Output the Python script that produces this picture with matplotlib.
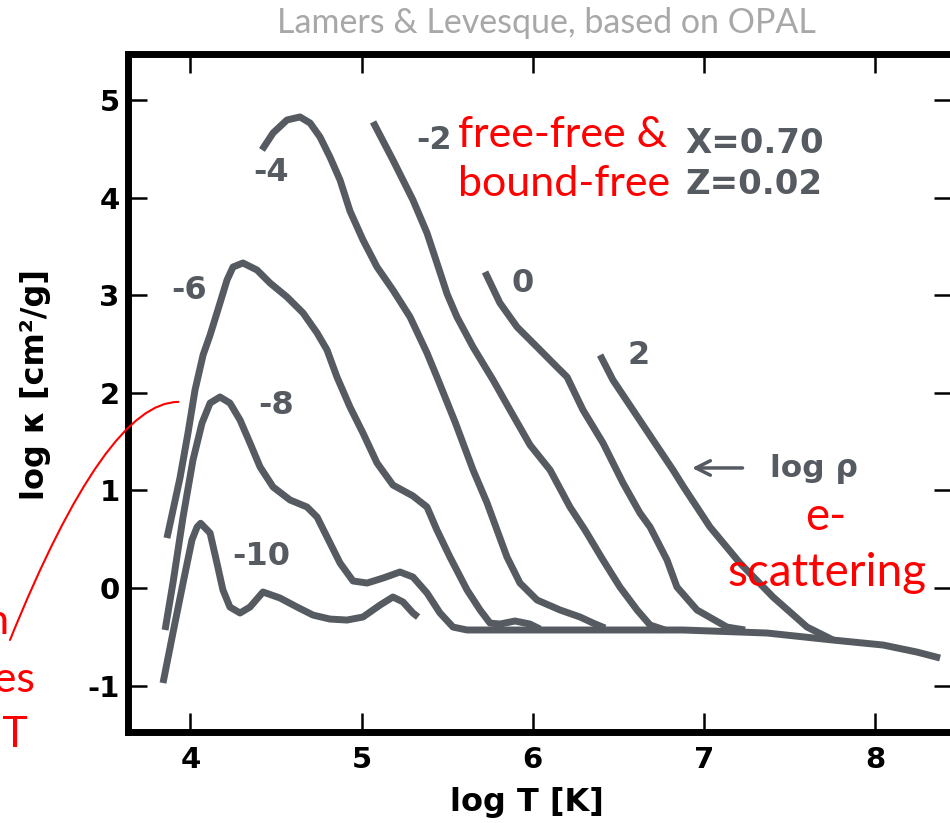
import matplotlib
matplotlib.use("Agg")
import matplotlib.pyplot as plt

# ---- data (log T, log kappa) ----
rho_m10_T = [3.840, 3.898, 3.957, 4.009, 4.039, 4.060, 4.115, 4.155, 4.190, 4.231, 4.290,
             4.348, 4.424, 4.523, 4.623, 4.716, 4.815, 4.915, 5.008, 5.108, 5.183, 5.242, 5.300, 5.330]
rho_m10_k = [-0.973, -0.461, 0.051, 0.492, 0.625, 0.663, 0.563, 0.256, -0.020, -0.195, -0.256,
             -0.195, -0.041, -0.102, -0.195, -0.277, -0.318, -0.328, -0.297, -0.174, -0.092, -0.143, -0.256, -0.297]

rho_m8_T = [3.852, 3.898, 3.957, 4.015, 4.068, 4.115, 4.173, 4.231, 4.290, 4.348, 4.407, 4.483,
            4.582, 4.681, 4.740, 4.798, 4.874, 4.950, 5.032, 5.125, 5.224, 5.300, 5.382, 5.458,
            5.534, 5.616, 5.808, 6.393, 6.877, 7.368, 7.754, 8.046, 8.244, 8.379]
rho_m8_k = [-0.430, 0.051, 0.727, 1.311, 1.691, 1.895, 1.957, 1.895, 1.721, 1.486, 1.240, 1.035,
            0.902, 0.830, 0.727, 0.523, 0.256, 0.072, 0.051, 0.102, 0.164, 0.113, -0.051, -0.256,
            -0.400, -0.430, -0.430, -0.430, -0.430, -0.461, -0.533, -0.584, -0.656, -0.717]

rho_m6_T = [3.863, 3.939, 3.986, 4.027, 4.074, 4.115, 4.155, 4.214, 4.249, 4.307, 4.389, 4.465,
            4.564, 4.658, 4.740, 4.798, 4.856, 4.932, 5.008, 5.090, 5.183, 5.300, 5.382, 5.440,
            5.516, 5.616, 5.692, 5.750, 5.808, 5.896, 5.983, 6.042]
rho_m6_k = [0.512, 1.127, 1.588, 2.029, 2.387, 2.592, 2.818, 3.156, 3.289, 3.330, 3.258, 3.125,
            2.982, 2.818, 2.613, 2.439, 2.162, 1.855, 1.588, 1.281, 1.055, 0.943, 0.830, 0.594,
            0.318, -0.020, -0.225, -0.359, -0.369, -0.338, -0.369, -0.420]

rho_m4_T = [4.418, 4.483, 4.564, 4.640, 4.699, 4.757, 4.815, 4.874, 4.932, 5.008, 5.090, 5.183,
            5.283, 5.382, 5.440, 5.546, 5.651, 5.733, 5.791, 5.849, 5.925, 6.025, 6.159, 6.276,
            6.352, 6.422]
rho_m4_k = [4.488, 4.662, 4.795, 4.826, 4.764, 4.621, 4.416, 4.180, 3.863, 3.566, 3.289, 3.053,
            2.777, 2.408, 2.162, 1.701, 1.209, 0.871, 0.594, 0.318, 0.051, -0.123, -0.225, -0.297,
            -0.359, -0.410]

rho_m2_T = [5.067, 5.183, 5.300, 5.382, 5.440, 5.500, 5.557, 5.651, 5.768, 5.867, 5.984, 6.101,
            6.217, 6.305, 6.410, 6.509, 6.609, 6.685, 6.772]
rho_m2_k = [4.775, 4.385, 3.975, 3.637, 3.330, 3.010, 2.777, 2.469, 2.131, 1.824, 1.465, 1.209,
            0.830, 0.594, 0.287, 0.010, -0.225, -0.379, -0.430]

rho_0_T = [5.721, 5.808, 5.908, 6.025, 6.141, 6.200, 6.293, 6.410, 6.527, 6.626, 6.685, 6.784,
           6.842, 6.959, 7.134, 7.240]
rho_0_k = [3.238, 2.920, 2.674, 2.469, 2.264, 2.162, 1.824, 1.486, 1.076, 0.768, 0.625, 0.287,
           0.010, -0.225, -0.400, -0.430]

rho_2_T = [6.393, 6.468, 6.585, 6.702, 6.819, 6.877, 7.035, 7.210, 7.403, 7.602, 7.754]
rho_2_k = [2.387, 2.131, 1.824, 1.516, 1.209, 1.046, 0.625, 0.256, -0.092, -0.400, -0.533]

curve_T = [rho_m10_T, rho_m8_T, rho_m6_T, rho_m4_T, rho_m2_T, rho_0_T, rho_2_T]
curve_k = [rho_m10_k, rho_m8_k, rho_m6_k, rho_m4_k, rho_m2_k, rho_0_k, rho_2_k]

curve_labels = ["-10", "-8", "-6", "-4", "-2", "0", "2"]
label_T = [4.412, 4.501, 3.992, 4.471, 5.423, 5.943, 6.620]
label_k = [0.318, 1.875, 3.053, 4.262, 4.580, 3.115, 2.387]

x_ticks = [4, 5, 6, 7, 8]
y_ticks = [-1, 0, 1, 2, 3, 4, 5]

GRAY = "#565b61"
RED = "#ff0000"

fig = plt.figure(figsize=(9.5, 8.23), dpi=100)
ax = fig.add_axes([128 / 950, 1 - 732 / 823, (953 - 128) / 950, (732 - 54) / 823])

for T, k in zip(curve_T, curve_k):
    ax.plot(T, k, color=GRAY, lw=5, solid_capstyle="butt", solid_joinstyle="round")

for lab, tx, ky in zip(curve_labels, label_T, label_k):
    ax.text(tx, ky, lab, color=GRAY, fontsize=23, fontweight="bold",
            ha="center", va="center", family="DejaVu Sans")

ax.set_xlim(3.6355, 8.4544)
ax.set_ylim(-1.475, 5.471)
ax.set_xticks(x_ticks)
ax.set_yticks(y_ticks)
ax.set_xticklabels([str(v) for v in x_ticks])
ax.set_yticklabels([str(v) for v in y_ticks])

for s in ax.spines.values():
    s.set_linewidth(5)
    s.set_color("black")
ax.tick_params(direction="in", length=14, width=1.8, top=True, right=True,
               labelsize=21, colors="black")
ax.tick_params(axis="x", pad=10)
ax.tick_params(axis="y", pad=6)
for lab in ax.get_xticklabels() + ax.get_yticklabels():
    lab.set_fontweight("bold")

fig.text(527 / 950, 1 - 803 / 823, "log T [K]", fontsize=23, fontweight="bold",
         ha="center", va="center")
fig.text(36 / 950, 1 - 385 / 823, "log κ [cm²/g]", fontsize=23, fontweight="bold",
         ha="center", va="center", rotation=90)

# composition note
ax.text(6.889, 4.549, "X=0.70", color=GRAY, fontsize=24.5, fontweight="bold", va="center", ha="left")
ax.text(6.889, 4.134, "Z=0.02", color=GRAY, fontsize=24.5, fontweight="bold", va="center", ha="left")

# log rho arrow
ax.annotate("", xy=(6.930, 1.230), xytext=(7.225, 1.230),
            arrowprops=dict(arrowstyle="->", color=GRAY, lw=2.5, mutation_scale=26,
                            shrinkA=0, shrinkB=0))
ax.text(7.386, 1.215, "log ρ", color=GRAY, fontsize=22.5, fontweight="bold", va="center", ha="left")

# red annotations
ax.text(5.563, 4.518, "free-free &", color=RED, fontsize=31, family="Lato", ha="left", va="baseline")
ax.text(5.563, 4.016, "bound-free", color=RED, fontsize=31, family="Lato", ha="left", va="baseline")
ax.text(7.713, 0.594, "e-", color=RED, fontsize=33, family="Lato", ha="center", va="baseline")
ax.text(7.719, 0.020, "scattering", color=RED, fontsize=33, family="Lato", ha="center", va="baseline")

fig.text(10 / 950, 1 - 634 / 823, "ionization", color=RED, fontsize=31, family="Lato",
         ha="right", va="baseline")
fig.text(35 / 950, 1 - 692 / 823, "increases", color=RED, fontsize=31, family="Lato",
         ha="right", va="baseline")
fig.text(28 / 950, 1 - 747 / 823, "with T", color=RED, fontsize=31, family="Lato",
         ha="right", va="baseline")

ax.annotate("", xy=(3.93, 1.907), xycoords="data",
            xytext=(10 / 950, 1 - 640 / 823), textcoords="figure fraction",
            arrowprops=dict(arrowstyle="-", color=RED, lw=1.5, shrinkA=0, shrinkB=0,
                            connectionstyle="angle3,angleA=68,angleB=0"),
            annotation_clip=False)

fig.text(546 / 950, 1 - 23 / 823, "Lamers & Levesque, based on OPAL", color="#a8a8a8",
         fontsize=24.5, family="Lato", ha="center", va="center")

fig.savefig("out.png", dpi=100)
